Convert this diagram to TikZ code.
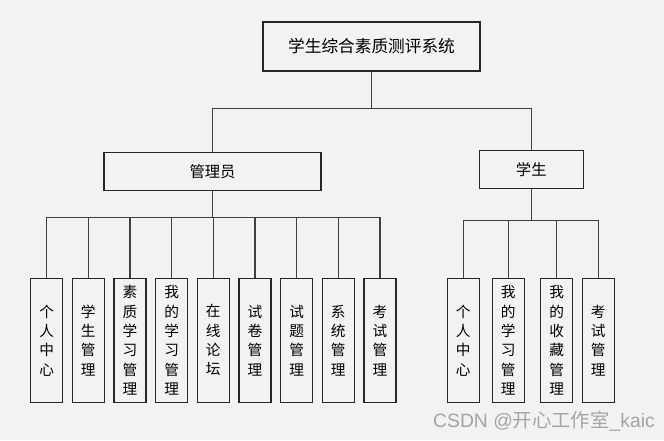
\documentclass[tikz,border=0pt]{standalone}
\usepackage{fontspec}
\setmainfont{Noto Sans CJK SC}
\newfontfamily\markfont{Liberation Sans}
\definecolor{bg}{HTML}{F2F2F2}
\definecolor{markgray}{HTML}{A4A4A4}
\begin{document}
\begin{tikzpicture}[x=0.75pt,y=-0.75pt,
  box/.style={draw=black!85,line width=1pt,fill=bg,inner sep=0pt},
  leaf/.style={box,minimum width=24pt,minimum height=93pt,align=center,
    font=\fontsize{11}{14.5}\selectfont},
  link/.style={draw=black!75,line width=1pt}]
\fill[bg] (0,0) rectangle (664,440);
\useasboundingbox (0,0) rectangle (664,440);
\node (sys) [box,minimum width=162.75pt,minimum height=36.75pt,font=\fontsize{12.5}{15}\selectfont] at (371.5,46.5) {学生综合素质测评系统};
\node (admin) [box,minimum width=162.75pt,minimum height=28.5pt,font=\fontsize{11.5}{14}\selectfont] at (212.5,171.7) {管理员};
\node (stu) [box,minimum width=78pt,minimum height=28.5pt,font=\fontsize{11.5}{14}\selectfont] at (531.3,169.2) {学生};
\coordinate (sysbus) at (371.5,108.5);
\draw[link] (sys.south) -- (sysbus);
\draw[link] (admin.north) |- (sysbus) -| (stu.north);
\node (a1) [leaf] at (46.7,340.3) {个\\人\\中\\心};
\node (a2) [leaf] at (88.3,340.3) {学\\生\\管\\理};
\node (a3) [leaf] at (130,340.3) {素\\质\\学\\习\\管\\理};
\node (a4) [leaf] at (171.7,340.3) {我\\的\\学\\习\\管\\理};
\node (a5) [leaf] at (213.3,340.3) {在\\线\\论\\坛};
\node (a6) [leaf] at (255,340.3) {试\\卷\\管\\理};
\node (a7) [leaf] at (296.7,340.3) {试\\题\\管\\理};
\node (a8) [leaf] at (338.3,340.3) {系\\统\\管\\理};
\node (a9) [leaf] at (380,340.3) {考\\试\\管\\理};
\coordinate (adminbus) at (212.5,217.5);
\draw[link] (admin.south) -- (adminbus);
\draw[link] (adminbus) -| (a1.north) (adminbus) -| (a2.north) (adminbus) -| (a3.north)
  (adminbus) -| (a4.north) (adminbus) -| (a5.north) (adminbus) -| (a6.north)
  (adminbus) -| (a7.north) (adminbus) -| (a8.north) (adminbus) -| (a9.north);
\node (s1) [leaf] at (463.3,340.3) {个\\人\\中\\心};
\node (s2) [leaf] at (508.3,340.3) {我\\的\\学\\习\\管\\理};
\node (s3) [leaf] at (556.7,340.3) {我\\的\\收\\藏\\管\\理};
\node (s4) [leaf] at (598.3,340.3) {考\\试\\管\\理};
\coordinate (stubus) at (531.3,220.7);
\draw[link] (stu.south) -- (stubus);
\draw[link] (stubus) -| (s1.north) (stubus) -| (s2.north)
  (stubus) -| (s3.north) (stubus) -| (s4.north);
\node (mark) [text=markgray,font=\fontsize{14.5}{16}\selectfont,anchor=east,inner sep=0pt] at (655,421.5) {{\markfont CSDN @}开心工作室{\markfont\_kaic}};
\end{tikzpicture}
\end{document}
